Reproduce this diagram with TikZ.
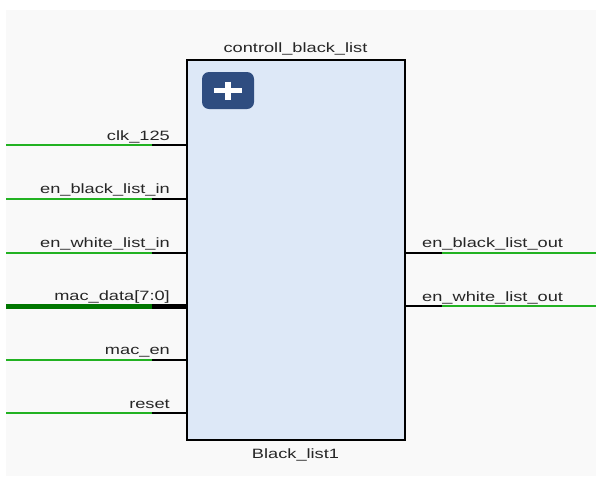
\documentclass[tikz,border=0pt]{standalone}
\usepackage{fontspec}
\usepackage{xcolor}
\usepackage{tikz}
\usetikzlibrary{positioning}
\newfontfamily\pinfont{Liberation Sans}[FakeStretch=1.35]
\definecolor{netgreen}{RGB}{34,178,34}
\definecolor{busgreen}{RGB}{0,118,0}
\definecolor{blockfill}{RGB}{221,232,247}
\definecolor{canvasgray}{RGB}{249,249,249}
\definecolor{btnblue}{RGB}{47,77,128}
\definecolor{labelgray}{RGB}{38,38,38}
\tikzset{
  block/.style={rectangle, draw=black, line width=2pt, fill=blockfill,
                minimum width=218pt, minimum height=380pt, inner sep=0pt},
  addbutton/.style={rectangle, rounded corners=7pt, fill=btnblue,
                    minimum width=52pt, minimum height=37pt, inner sep=0pt},
  pinlabel/.style={inner sep=0pt, font=\pinfont\fontsize{13.5}{16}\selectfont, text=labelgray},
  net/.style={line width=2pt, color=netgreen},
  bus/.style={line width=5pt, color=busgreen},
  stub/.style={line width=2pt, color=black},
  busstub/.style={line width=5pt, color=black},
}

\begin{document}
\begin{tikzpicture}[x=1pt, y=-1pt]
  \useasboundingbox (0,0) rectangle (596,477);
  \fill[white] (0,0) rectangle (596,477);
  \fill[canvasgray] (6,10) rectangle (596,476);

  % the block itself
  \node[block] (blk) at (295.5,250) {};
  \node[addbutton] (addbtn) at (228,90.5) {};
  \draw[white, line width=5.5pt] ([xshift=-14pt]addbtn.center) -- ([xshift=14pt]addbtn.center);
  \draw[white, line width=5.5pt] ([yshift=9pt]addbtn.center) -- ([yshift=-9pt]addbtn.center);

  \node[pinlabel, anchor=base] (title) at ([yshift=7pt]blk.north) {controll\_black\_list};
  \node[pinlabel, anchor=base] (inst) at ([yshift=-17pt]blk.south) {Black\_list1};

  % input ports
  \coordinate (clkend) at (6,145);   \coordinate (clkstub) at (152,145);   \coordinate (clkpin) at (186,145);
  \coordinate (ebiend) at (6,198.5); \coordinate (ebistub) at (152,198.5); \coordinate (ebipin) at (186,198.5);
  \coordinate (ewiend) at (6,252.5); \coordinate (ewistub) at (152,252.5); \coordinate (ewipin) at (186,252.5);
  \coordinate (macdend) at (6,306.5); \coordinate (macdstub) at (152,306.5); \coordinate (macdpin) at (186,306.5);
  \coordinate (macenend) at (6,359.5); \coordinate (macenstub) at (152,359.5); \coordinate (macenpin) at (186,359.5);
  \coordinate (rstend) at (6,413);   \coordinate (rststub) at (152,413);   \coordinate (rstpin) at (186,413);

  \draw[net] (clkend) -- (clkstub);     \draw[stub] (clkstub) -- (clkpin);
  \draw[net] (ebiend) -- (ebistub);     \draw[stub] (ebistub) -- (ebipin);
  \draw[net] (ewiend) -- (ewistub);     \draw[stub] (ewistub) -- (ewipin);
  \draw[bus] (macdend) -- (macdstub);   \draw[busstub] (macdstub) -- (macdpin);
  \draw[net] (macenend) -- (macenstub); \draw[stub] (macenstub) -- (macenpin);
  \draw[net] (rstend) -- (rststub);     \draw[stub] (rststub) -- (rstpin);

  \node[pinlabel, anchor=base east] (clklbl) at ([xshift=-16pt, yshift=5pt]clkpin) {clk\_125};
  \node[pinlabel, anchor=base east] (ebilbl) at ([xshift=-16pt, yshift=5pt]ebipin) {en\_black\_list\_in};
  \node[pinlabel, anchor=base east] (ewilbl) at ([xshift=-16pt, yshift=5pt]ewipin) {en\_white\_list\_in};
  \node[pinlabel, anchor=base east] (macdlbl) at ([xshift=-16pt, yshift=6pt]macdpin) {mac\_data[7:0]};
  \node[pinlabel, anchor=base east] (macenlbl) at ([xshift=-16pt, yshift=5pt]macenpin) {mac\_en};
  \node[pinlabel, anchor=base east] (rstlbl) at ([xshift=-16pt, yshift=5pt]rstpin) {reset};

  % output ports
  \coordinate (ebopin) at (405,252.5); \coordinate (ebostub) at (442,252.5); \coordinate (eboend) at (596,252.5);
  \coordinate (ewopin) at (405,306); \coordinate (ewostub) at (442,306); \coordinate (ewoend) at (596,306);

  \draw[stub] (ebopin) -- (ebostub); \draw[net] (ebostub) -- (eboend);
  \draw[stub] (ewopin) -- (ewostub); \draw[net] (ewostub) -- (ewoend);

  \node[pinlabel, anchor=base west] (ebolbl) at ([xshift=17pt, yshift=5pt]ebopin) {en\_black\_list\_out};
  \node[pinlabel, anchor=base west] (ewolbl) at ([xshift=17pt, yshift=5pt]ewopin) {en\_white\_list\_out};
\end{tikzpicture}
\end{document}
